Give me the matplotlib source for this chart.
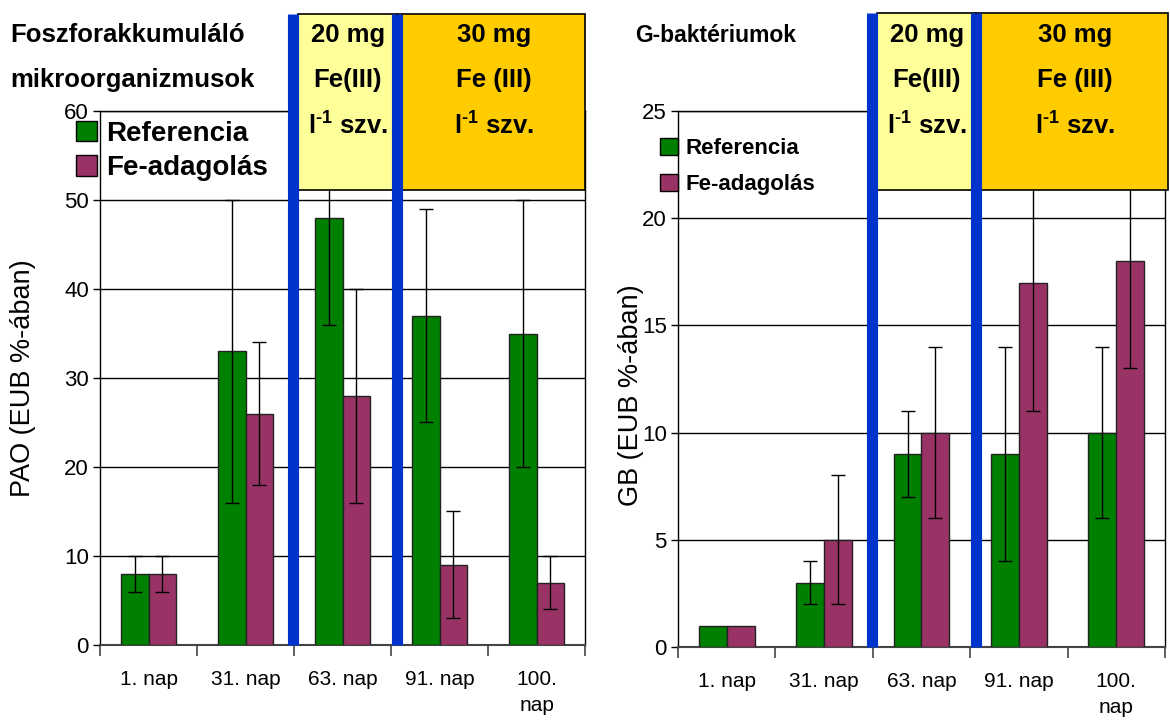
import numpy as np
import matplotlib
matplotlib.use('Agg')
import matplotlib.pyplot as plt
import matplotlib.transforms as mtransforms
from matplotlib.patches import Rectangle, Patch

plt.rcParams['font.family'] = ['Liberation Sans', 'DejaVu Sans']
plt.rcParams['mathtext.fontset'] = 'custom'
plt.rcParams['mathtext.rm'] = 'Liberation Sans:bold'
plt.rcParams['mathtext.default'] = 'rm'

# Adatok
days = ['1. nap', '31. nap', '63. nap', '91. nap', '100.\nnap']

pao_ref = [8, 33, 48, 37, 35]
pao_ref_low = [6, 16, 36, 25, 20]
pao_ref_high = [10, 50, 60, 49, 50]
pao_fe = [8, 26, 28, 9, 7]
pao_fe_low = [6, 18, 16, 3, 4]
pao_fe_high = [10, 34, 40, 15, 10]

gb_ref = [1, 3, 9, 9, 10]
gb_ref_low = [1, 2, 7, 4, 6]
gb_ref_high = [1, 4, 11, 14, 14]
gb_fe = [1, 5, 10, 17, 18]
gb_fe_low = [1, 2, 6, 11, 13]
gb_fe_high = [1, 8, 14, 23, 23]

box_labels = [['20 mg', 'Fe(III)', r'l$^{\text{-1}}$ szv.'],
              ['30 mg', 'Fe (III)', r'l$^{\text{-1}}$ szv.']]

GREEN = '#008000'
PLUM = '#993366'
BLUE = '#0033CC'
LIGHT_YELLOW = '#FFFF99'
GOLD = '#FFCC00'

fig = plt.figure(figsize=(11.7, 7.2), dpi=100)
ax1 = fig.add_axes([0.0855, 0.1042, 0.4145, 0.7416])
ax2 = fig.add_axes([0.5795, 0.1014, 0.4162, 0.7444])


def error_bars(ax, xpos, val, lo, hi):
    # csak ott rajzolunk hibasávot, ahol van szórás
    val = np.array(val, dtype=float)
    lo = np.array(lo, dtype=float)
    hi = np.array(hi, dtype=float)
    m = hi > lo
    ax.errorbar(xpos[m], val[m], yerr=[val[m] - lo[m], hi[m] - val[m]],
                fmt='none', ecolor='black', elinewidth=1, capsize=5,
                capthick=1, zorder=4)


def draw_panel(ax, ref, ref_lo, ref_hi, fe, fe_lo, fe_hi, ymax, ystep, box_right):
    x = np.arange(len(days))
    w = 1 / 3.5
    ax.bar(x - w / 2, ref, w, color=GREEN, edgecolor='#222222', linewidth=1, zorder=3)
    ax.bar(x + w / 2, fe, w, color=PLUM, edgecolor='#222222', linewidth=1, zorder=3)
    error_bars(ax, x - w / 2, ref, ref_lo, ref_hi)
    error_bars(ax, x + w / 2, fe, fe_lo, fe_hi)

    ax.set_xlim(-0.5, len(days) - 0.5)
    ax.set_ylim(0, ymax)
    ax.set_yticks(np.arange(0, ymax + 0.1, ystep))
    ax.yaxis.grid(True, color='black', linewidth=1)
    ax.set_axisbelow(True)
    for s in ax.spines.values():
        s.set_linewidth(1)
    ax.spines['bottom'].set_color('#444444')
    ax.spines['bottom'].set_linewidth(1.5)

    ax.set_xticks(x)
    ax.set_xticklabels(days, fontsize=15, linespacing=1.45)
    ax.tick_params(axis='x', which='major', length=0, pad=18)
    ax.set_xticks(np.arange(-0.5, len(days)), minor=True)
    ax.tick_params(axis='x', which='minor', length=8, width=1.2, color='#444444')
    ax.tick_params(axis='y', length=5, width=1, labelsize=16, pad=3)

    # Fe(III) adagolási szakaszok
    trans = mtransforms.blended_transform_factory(ax.transData, ax.transAxes)
    lines = [1.49, 2.56]
    half = 0.056
    boxes = [(lines[0] + half, lines[1]), (lines[1], box_right)]
    colors = [LIGHT_YELLOW, GOLD]
    y0, y1 = 0.852, 1.182
    for i, ((bx0, bx1), col, labels) in enumerate(zip(boxes, colors, box_labels)):
        ax.add_patch(Rectangle((bx0, y0), bx1 - bx0, y1 - y0, transform=trans,
                               facecolor=col, edgecolor='black', linewidth=1.2,
                               clip_on=False, zorder=5))
        cx = (bx0 + bx1) / 2 if i == 0 else (bx0 + half + bx1) / 2
        for lab, yy in zip(labels, [1.142, 1.058, 0.972]):
            ax.text(cx, yy, lab, transform=trans, ha='center', va='center',
                    fontsize=18.5, fontweight='bold', zorder=7)
    for lx in lines:
        ax.plot([lx, lx], [0, y1], transform=trans, color=BLUE, linewidth=8,
                solid_capstyle='butt', clip_on=False, zorder=6)


draw_panel(ax1, pao_ref, pao_ref_low, pao_ref_high,
           pao_fe, pao_fe_low, pao_fe_high, 60, 10, 4.5)
draw_panel(ax2, gb_ref, gb_ref_low, gb_ref_high,
           gb_fe, gb_fe_low, gb_fe_high, 25, 5, 4.53)

ax1.set_ylabel('PAO (EUB %-ában)', fontsize=19.5)
ax1.yaxis.set_label_coords(-0.132, 0.5)
ax2.set_ylabel('GB (EUB %-ában)', fontsize=19.5)
ax2.yaxis.set_label_coords(-0.07, 0.47)

fig.text(10 / 1170, 1 - 35 / 720, 'Foszforakkumuláló', fontsize=18.5,
         fontweight='bold', va='center', ha='left')
fig.text(10 / 1170, 1 - 80 / 720, 'mikroorganizmusok', fontsize=18.5,
         fontweight='bold', va='center', ha='left')
fig.text(635 / 1170, 1 - 35 / 720, 'G-baktériumok', fontsize=16.5,
         fontweight='bold', va='center', ha='left')

handles = [Patch(facecolor=GREEN, edgecolor='black', linewidth=1),
           Patch(facecolor=PLUM, edgecolor='black', linewidth=1)]
names = ['Referencia', 'Fe-adagolás']
leg1 = ax1.legend(handles, names, loc='upper left',
                  bbox_to_anchor=(76 / 1170, 1 - 121 / 720),
                  bbox_transform=fig.transFigure, frameon=False,
                  prop={'size': 20, 'weight': 'bold'}, handlelength=0.75,
                  handleheight=0.75, handletextpad=0.35, labelspacing=0.3,
                  borderpad=0, borderaxespad=0)
leg1.set_zorder(8)
leg2 = ax2.legend(handles, names, loc='upper left',
                  bbox_to_anchor=(660 / 1170, 1 - 138 / 720),
                  bbox_transform=fig.transFigure, frameon=False,
                  prop={'size': 16, 'weight': 'bold'}, handlelength=0.8,
                  handleheight=0.8, handletextpad=0.35, labelspacing=0.65,
                  borderpad=0, borderaxespad=0)
leg2.set_zorder(8)

fig.savefig('out.png', dpi=100)
